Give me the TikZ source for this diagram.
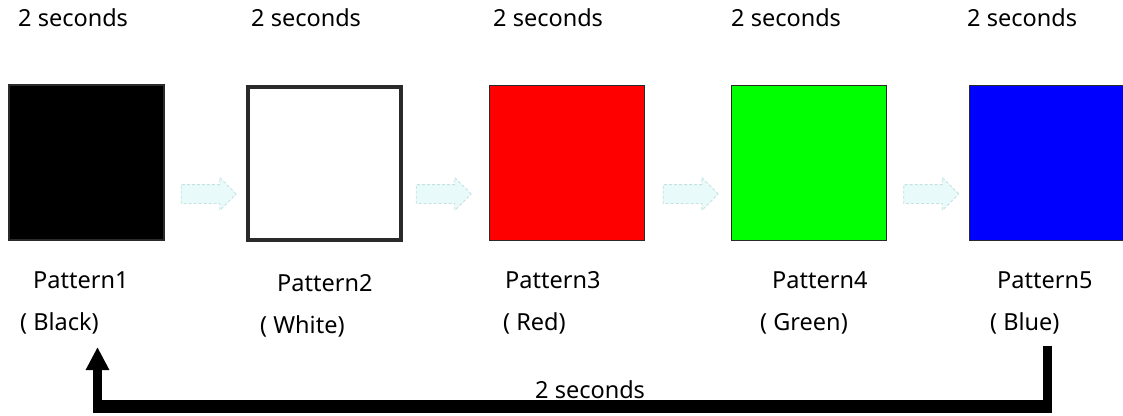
\documentclass[tikz,border=0pt]{standalone}
\usepackage{fontspec}
\setmainfont{Noto Sans}
\usetikzlibrary{shapes.arrows,arrows.meta}
\definecolor{boxedge}{HTML}{2A2A2A}
\definecolor{pblue}{HTML}{0000FF}
\definecolor{pred}{HTML}{FF0000}
\definecolor{pgreen}{HTML}{00FF00}
\definecolor{arrfill}{HTML}{E8FAFA}
\definecolor{arredge}{HTML}{C4E2E2}
\tikzset{
  pbox/.style={draw=boxedge, line width=1.5pt, minimum width=155pt, minimum height=155pt, inner sep=0pt},
  lbl/.style={anchor=base west, inner sep=0pt, font=\fontsize{23.5}{28}\selectfont},
  flowarrow/.style={single arrow, fill=arrfill, draw=arredge, densely dashed, line width=0.8pt,
    minimum height=55pt, text height=9pt, text depth=9pt, text width=0pt,
    single arrow head extend=7pt, inner sep=0pt},
  loopline/.style={line width=9pt, black},
}
\begin{document}
\begin{tikzpicture}[x=1pt,y=-1pt]
\useasboundingbox[fill=white] (0,0) rectangle (1123,415);
% top labels
\node[lbl] (t1) at (18,27) {2 seconds};
\node[lbl] (t2) at (251,27) {2 seconds};
\node[lbl] (t3) at (493,27) {2 seconds};
\node[lbl] (t4) at (731,27) {2 seconds};
\node[lbl] (t5) at (967,27) {2 seconds};
% pattern boxes
\node[pbox, fill=black] (b1) at (86.5,162.5) {};
\node[pbox, fill=white, line width=4pt, minimum width=153pt, minimum height=153pt] (b2) at (324.5,163.5) {};
\node[pbox, fill=pred] (b3) at (567,163) {};
\node[pbox, fill=pgreen] (b4) at (809,163) {};
\node[pbox, fill=pblue] (b5) at (1047,163) {};
% arrows between boxes
\node[flowarrow] (a1) at (204,194) {};
\node[flowarrow] (a2) at (439,194) {};
\node[flowarrow] (a3) at (686,194) {};
\node[flowarrow] (a4) at (926.5,194) {};
% pattern labels
\node[lbl] (p1) at (33,288) {Pattern1};
\node[lbl] (c1) at (20,330) {( Black)};
\node[lbl] (p2) at (277,291) {Pattern2};
\node[lbl] (c2) at (260,333) {( White)};
\node[lbl] (p3) at (505,288) {Pattern3};
\node[lbl] (c3) at (503,330) {( Red)};
\node[lbl] (p4) at (772,288) {Pattern4};
\node[lbl] (c4) at (760,330) {( Green)};
\node[lbl] (p5) at (997,288) {Pattern5};
\node[lbl] (c5) at (990,330) {( Blue)};
% loop back connector
\coordinate (rtop) at (1047.5,346);
\coordinate (rbot) at (1047.5,413);
\coordinate (hr) at (1052,406.5);
\coordinate (hl) at (93,406.5);
\coordinate (lbot) at (97.5,401);
\coordinate (ltip) at (97.5,347);
\draw[loopline] (rtop) -- (rbot);
\draw[line width=13pt] (hr) -- (hl);
\draw[loopline, -{Triangle[width=22pt,length=23pt]}] (lbot) -- (ltip);
\node[lbl] (bt) at (535,398) {2 seconds};
\end{tikzpicture}
\end{document}
